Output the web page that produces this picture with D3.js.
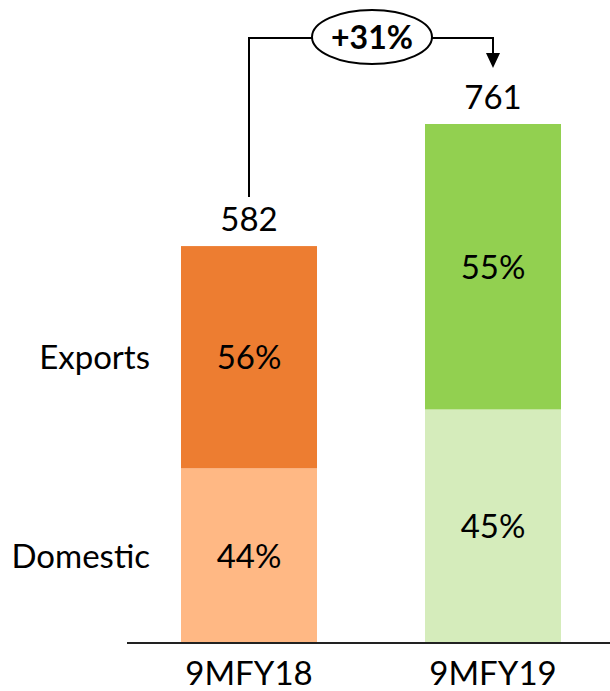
<!DOCTYPE html>
<html>
<head>
<meta charset="utf-8">
<script src="https://cdn.jsdelivr.net/npm/d3@7"></script>
<style>
  html, body { margin: 0; padding: 0; background: #fff; }
  svg { display: block; font-family: Lato, "Open Sans", sans-serif; }
</style>
</head>
<body>
<svg id="chart" width="610" height="691"></svg>
<script>
// Sales split by market, nine months of each fiscal year
const periods = ["9MFY18", "9MFY19"];
const totals = [582, 761];
const domesticShare = [44, 45];
const exportShare = [56, 55];
const segmentNames = ["Domestic", "Exports"];
const growthLabel = "+31%";

const darkColors = ["#ED7D31", "#92D050"];
const lightColors = ["#FFB884", "#D5ECBB"];

const svg = d3.select("#chart");
const baseY = 643;
const fontSize = 33;

const x = d3.scaleBand()
  .domain(periods)
  .range([127, 615])
  .paddingInner(0.4426)
  .paddingOuter(0.2213);

const y = d3.scaleLinear()
  .domain([0, d3.max(totals)])
  .range([baseY, 124]);

const rows = periods.map((p, i) => {
  const dom = totals[i] * domesticShare[i] / 100;
  return {
    period: p, total: totals[i], i,
    segs: [
      { key: segmentNames[0], y0: 0, y1: dom, pct: domesticShare[i], color: lightColors[i] },
      { key: segmentNames[1], y0: dom, y1: totals[i], pct: exportShare[i], color: darkColors[i] }
    ]
  };
});

// stacked bars
const g = svg.append("g");
rows.forEach(r => {
  g.selectAll(null).data(r.segs).enter().append("rect")
    .attr("x", x(r.period))
    .attr("width", x.bandwidth())
    .attr("y", d => y(d.y1))
    .attr("height", d => y(d.y0) - y(d.y1))
    .attr("fill", d => d.color);

  g.selectAll(null).data(r.segs).enter().append("text")
    .attr("x", x(r.period) + x.bandwidth() / 2)
    .attr("y", d => (y(d.y0) + y(d.y1)) / 2)
    .attr("dy", "0.36em")
    .attr("text-anchor", "middle")
    .attr("font-size", fontSize)
    .attr("fill", "#000")
    .text(d => d.pct + "%");

  g.append("text")
    .attr("x", x(r.period) + x.bandwidth() / 2)
    .attr("y", y(r.total) - 15)
    .attr("text-anchor", "middle")
    .attr("font-size", fontSize)
    .attr("fill", "#000")
    .text(r.total);
});

// baseline axis with period labels
const axis = svg.append("g")
  .attr("transform", `translate(0,${baseY})`)
  .call(d3.axisBottom(x).tickSize(0).tickPadding(0));
axis.select(".domain").attr("d", "M127,0H610").attr("stroke", "#222").attr("stroke-width", 2);
axis.selectAll(".tick text")
  .attr("y", 42)
  .attr("dy", 0)
  .attr("font-size", fontSize)
  .attr("font-family", "Lato, 'Open Sans', sans-serif")
  .attr("fill", "#000");

// segment names on the left, level with the first bar's segments
const first = rows[0];
svg.selectAll(".seg-name").data(first.segs).enter().append("text")
  .attr("class", "seg-name")
  .attr("x", 150)
  .attr("y", d => (y(d.y0) + y(d.y1)) / 2)
  .attr("dy", "0.36em")
  .attr("text-anchor", "end")
  .attr("font-size", fontSize)
  .attr("fill", "#000")
  .text(d => d.key);

// growth connector between the two totals
const cx0 = x(periods[0]) + x.bandwidth() / 2;
const cx1 = x(periods[1]) + x.bandwidth() / 2;
const lineY = 38;
const ell = { cx: 372, cy: 37, rx: 60, ry: 27 };
const tipY = y(totals[1]) - 56;

const ann = svg.append("g").attr("stroke", "#000").attr("stroke-width", 2).attr("fill", "none");
ann.append("path")
  .attr("d", `M${cx0},${y(totals[0]) - 49}V${lineY}H${ell.cx - ell.rx}`);
ann.append("path")
  .attr("d", `M${ell.cx + ell.rx},${lineY}H${cx1}V${tipY - 12}`);
ann.append("path")
  .attr("d", `M${cx1 - 7},${tipY - 15}L${cx1 + 7},${tipY - 15}L${cx1},${tipY}Z`)
  .attr("fill", "#000").attr("stroke", "none");
ann.append("ellipse")
  .attr("cx", ell.cx).attr("cy", ell.cy)
  .attr("rx", ell.rx).attr("ry", ell.ry)
  .attr("fill", "#fff");

svg.append("text")
  .attr("x", ell.cx)
  .attr("y", ell.cy)
  .attr("dy", "0.36em")
  .attr("text-anchor", "middle")
  .attr("font-size", 32)
  .attr("font-weight", "bold")
  .attr("fill", "#000")
  .text(growthLabel);
</script>
</body>
</html>
